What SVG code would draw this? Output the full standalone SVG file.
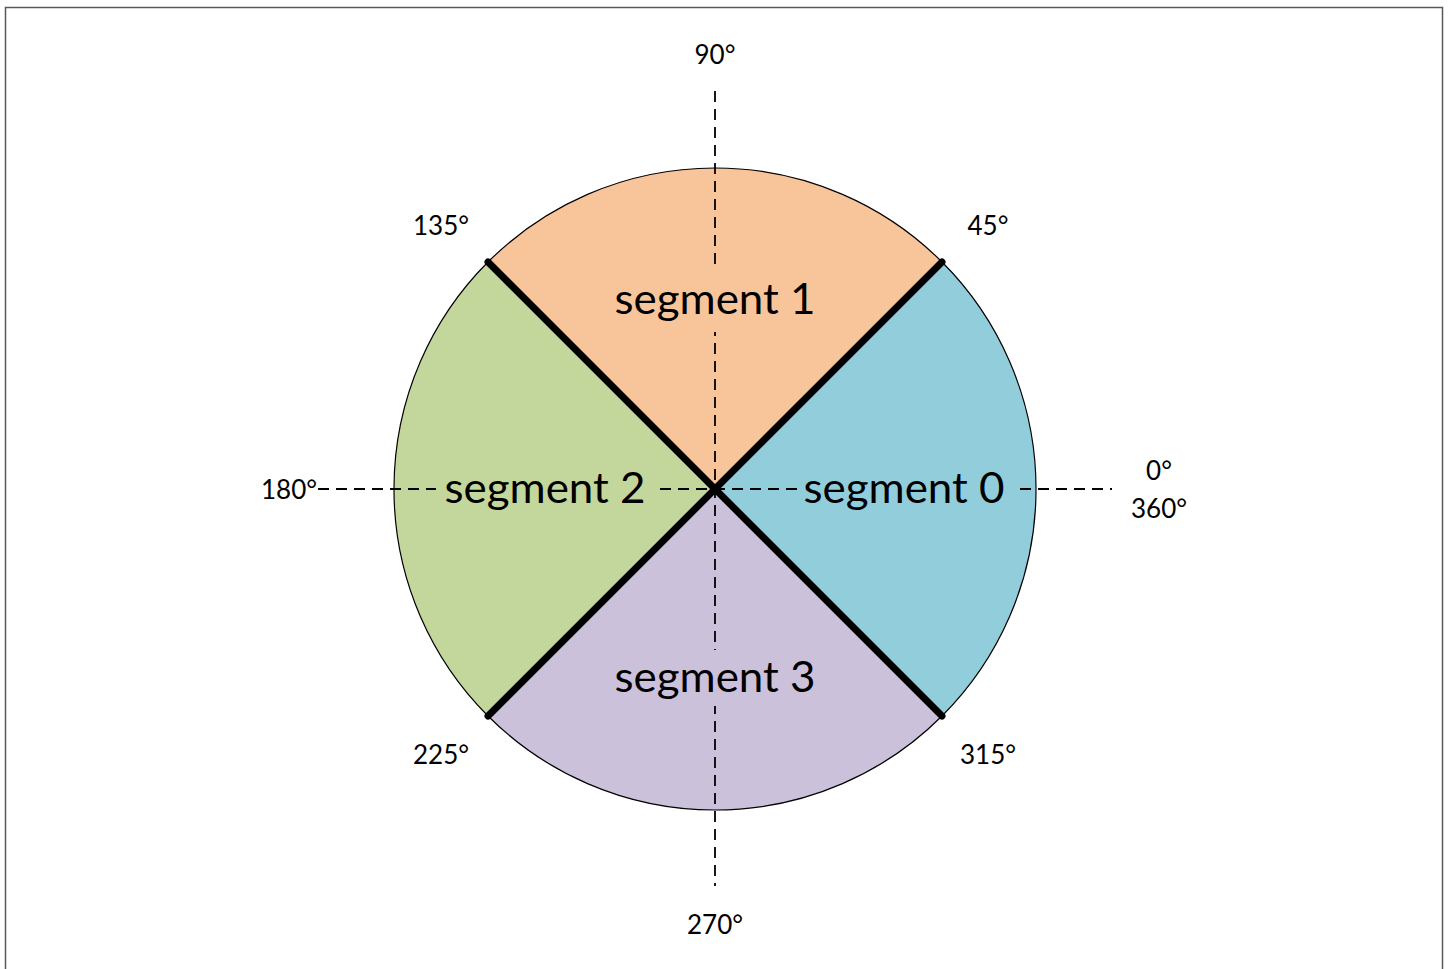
<svg xmlns="http://www.w3.org/2000/svg" width="1450" height="969" viewBox="0 0 1450 969">
<style>
.seg{stroke:#000;stroke-width:1.2}
.dash{stroke:#000;stroke-width:1.8;stroke-dasharray:11 7;fill:none}
.thick{stroke:#000;stroke-width:7;stroke-linecap:round}
.big{font-family:Lato,"Liberation Sans",sans-serif;font-size:43px;fill:#000;text-anchor:middle}
.ang{font-family:Lato,"Liberation Sans",sans-serif;font-size:26px;fill:#000;text-anchor:middle}
</style>
<rect x="5.5" y="7.5" width="1437" height="980" fill="#fff" stroke="#595959" stroke-width="1.5"/>
<g id="segment0"><path class="seg" fill="#92CDDC" d="M715,489 L942,262 A321,321 0 0 1 942,716 Z"/></g>
<g id="segment1"><path class="seg" fill="#F8C49A" d="M715,489 L488,262 A321,321 0 0 1 942,262 Z"/></g>
<g id="segment2"><path class="seg" fill="#C3D69B" d="M715,489 L488,716 A321,321 0 0 1 488,262 Z"/></g>
<g id="segment3"><path class="seg" fill="#CCC1DA" d="M715,489 L942,716 A321,321 0 0 1 488,716 Z"/></g>
<g id="connectors">
<line class="dash" x1="715" y1="91" x2="715" y2="886"/>
<line class="dash" x1="318" y1="489" x2="1112" y2="489"/>
</g>
<g id="labels">
<rect x="605" y="270" width="220" height="62" fill="#F8C49A"/>
<text class="big" x="715" y="314" textLength="201" lengthAdjust="spacingAndGlyphs">segment 1</text>
<rect x="797" y="466" width="218" height="48" fill="#92CDDC"/>
<text class="big" x="904" y="503" textLength="201" lengthAdjust="spacingAndGlyphs">segment 0</text>
<rect x="436" y="466" width="219" height="48" fill="#C3D69B"/>
<text class="big" x="545" y="503" textLength="201" lengthAdjust="spacingAndGlyphs">segment 2</text>
<rect x="605" y="650" width="220" height="56" fill="#CCC1DA"/>
<text class="big" x="715" y="692" textLength="201" lengthAdjust="spacingAndGlyphs">segment 3</text>
</g>
<g id="dividers">
<line class="thick" x1="488" y1="262" x2="942" y2="716"/>
<line class="thick" x1="942" y1="262" x2="488" y2="716"/>
</g>
<g id="angles">
<text class="ang" x="715" y="64">90°</text>
<text class="ang" x="441" y="235">135°</text>
<text class="ang" x="988" y="235">45°</text>
<text class="ang" x="289" y="499">180°</text>
<text class="ang" x="1159" y="480">0°</text>
<text class="ang" x="1159" y="518">360°</text>
<text class="ang" x="441" y="764">225°</text>
<text class="ang" x="988" y="764">315°</text>
<text class="ang" x="715" y="934">270°</text>
</g>
</svg>
